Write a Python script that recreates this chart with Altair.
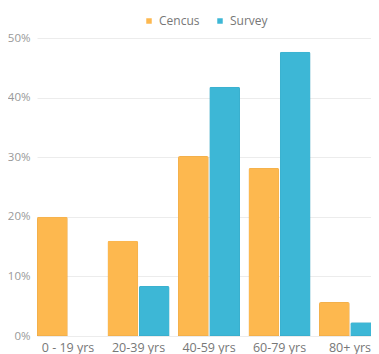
import altair as alt
import pandas as pd

groups = ["0 - 19  yrs", "20-39 yrs", "40-59 yrs", "60-79 yrs", "80+ yrs"]
series = ["Cencus", "Survey"]
census = [20.0, 16.0, 30.2, 28.2, 5.7]
survey = [0.0, 8.4, 41.8, 47.7, 2.3]

rows = []
for g, c, s in zip(groups, census, survey):
    rows.append({"group": g, "series": "Cencus", "value": c / 100})
    rows.append({"group": g, "series": "Survey", "value": s / 100})
df = pd.DataFrame(rows)

chart = alt.Chart(df).mark_bar(
    cornerRadiusTopLeft=2, cornerRadiusTopRight=2, stroke="#00000022", strokeWidth=0.6
).encode(
    x=alt.X("group:N", sort=groups, title=None,
            scale=alt.Scale(paddingInner=0.12, paddingOuter=0, range=[0, 344]),
            axis=alt.Axis(labelAngle=0, ticks=False, domain=False, labelPadding=5,
                          labelFontSize=12.5, labelColor="#777", labelFont="Open Sans")),
    xOffset=alt.XOffset("series:N", sort=series, scale=alt.Scale(paddingInner=0.02)),
    y=alt.Y("value:Q", title=None,
            scale=alt.Scale(domain=[0, 0.5], nice=False),
            axis=alt.Axis(format=".0%", values=[0, 0.1, 0.2, 0.3, 0.4, 0.5],
                          ticks=False, domain=False, labelPadding=7,
                          labelFontSize=11.5, labelColor="#999", labelFont="Open Sans",
                          gridColor="#ececec")),
    color=alt.Color("series:N", sort=series, title=None,
                    scale=alt.Scale(domain=series, range=["#FDB84F", "#3DB7D6"]),
                    legend=alt.Legend(orient="none", legendX=106, legendY=-23,
                                      direction="horizontal", symbolType="square",
                                      symbolSize=30, symbolStrokeWidth=0,
                                      labelFontSize=12, labelColor="#777",
                                      labelFont="Open Sans", columnPadding=14)),
    strokeOpacity=alt.condition("datum.value > 0", alt.value(1), alt.value(0)),
).properties(
    width=334, height=298,
    autosize=alt.AutoSizeParams(type="none"),
    padding={"left": 29, "right": 0, "top": 30, "bottom": 18}
).configure_view(stroke=None)

chart.save("out.html", embed_options={"renderer": "svg", "actions": False})
